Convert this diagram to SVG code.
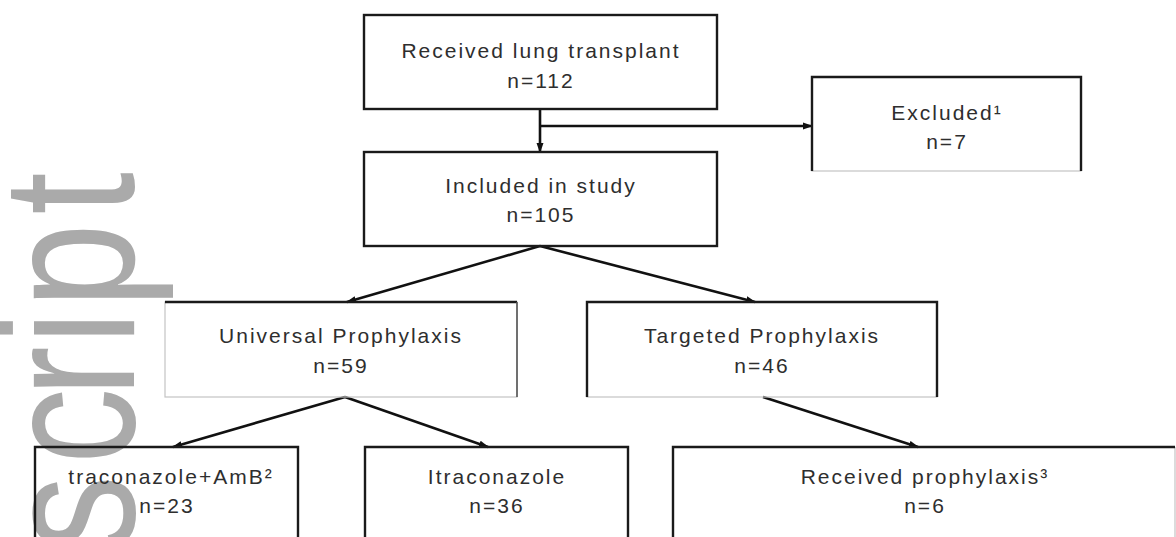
<svg xmlns="http://www.w3.org/2000/svg" width="1176" height="537" viewBox="0 0 1176 537">
<style>
  .wm{font-family:"Liberation Sans",Arial,sans-serif;font-size:190px;fill:#aaaaaa}
  .t{font-family:"Liberation Sans",Arial,sans-serif;font-size:21px;fill:#2e2e2e;letter-spacing:2px;text-anchor:middle}
  .lite{fill:none;stroke:#c4c4c4;stroke-width:1.2}
  .dark{fill:none;stroke:#1a1a1a;stroke-width:2.4}
  .med{fill:none;stroke:#555;stroke-width:1.6}
  .c{fill:none;stroke:#111;stroke-width:2.6;marker-end:url(#ah)}
</style>
<defs>
  <marker id="ah" markerUnits="userSpaceOnUse" markerWidth="10" markerHeight="8" refX="9" refY="4" orient="auto">
    <path d="M0,0.5 L10,4 L0,7.5 z" fill="#111"/>
  </marker>
</defs>
<rect width="1176" height="537" fill="#ffffff"/>
<text class="wm" transform="translate(134,600) rotate(-90) scale(0.8,1)" x="61 170 254 319 365 482" y="0">script</text>

<g id="connectors">
  <line class="c" x1="540" y1="109" x2="540" y2="152"/>
  <line class="c" x1="540" y1="126" x2="812" y2="126"/>
  <line class="c" x1="540" y1="246" x2="347" y2="302"/>
  <line class="c" x1="540" y1="246" x2="755" y2="302"/>
  <line class="c" x1="345" y1="397" x2="173" y2="447"/>
  <line class="c" x1="345" y1="397" x2="488" y2="447"/>
  <line class="c" x1="763" y1="397" x2="918" y2="447"/>
</g>

<g id="received-transplant">
  <rect class="dark" x="364" y="15" width="353" height="94"/>
  <text class="t" x="541" y="58">Received lung transplant</text>
  <text class="t" x="541" y="88">n=112</text>
</g>

<g id="excluded">
  <rect class="lite" x="812" y="77" width="269" height="94"/>
  <path class="dark" d="M812,171 V77 H1081 V171"/>
  <text class="t" x="947" y="120">Excluded¹</text>
  <text class="t" x="947" y="149">n=7</text>
</g>

<g id="included">
  <rect class="dark" x="364" y="152" width="353" height="94"/>
  <text class="t" x="541" y="193">Included in study</text>
  <text class="t" x="541" y="222">n=105</text>
</g>

<g id="universal">
  <rect class="lite" x="165" y="302" width="352" height="95"/>
  <path class="dark" d="M165,302 H517"/>
  <path class="med" d="M517,302 V397"/>
  <text class="t" x="341" y="343">Universal Prophylaxis</text>
  <text class="t" x="341" y="373">n=59</text>
</g>

<g id="targeted">
  <rect class="lite" x="587" y="302" width="350" height="95"/>
  <path class="dark" d="M587,397 V302 H937 V397"/>
  <text class="t" x="762" y="343">Targeted Prophylaxis</text>
  <text class="t" x="762" y="373">n=46</text>
</g>

<g id="itra-amb">
  <path class="dark" d="M35,540 V447 H298 V540"/>
  <text class="t" x="171" y="484">traconazole+AmB²</text>
  <text class="t" x="167" y="513">n=23</text>
</g>

<g id="itraconazole">
  <path class="dark" d="M365,540 V447 H628 V540"/>
  <text class="t" x="497" y="484">Itraconazole</text>
  <text class="t" x="497" y="513">n=36</text>
</g>

<g id="received-prophylaxis">
  <path class="lite" d="M1175,447 V540"/>
  <path class="dark" d="M673,540 V447 H1175"/>
  <text class="t" x="925" y="484">Received prophylaxis³</text>
  <text class="t" x="925" y="513">n=6</text>
</g>
</svg>
